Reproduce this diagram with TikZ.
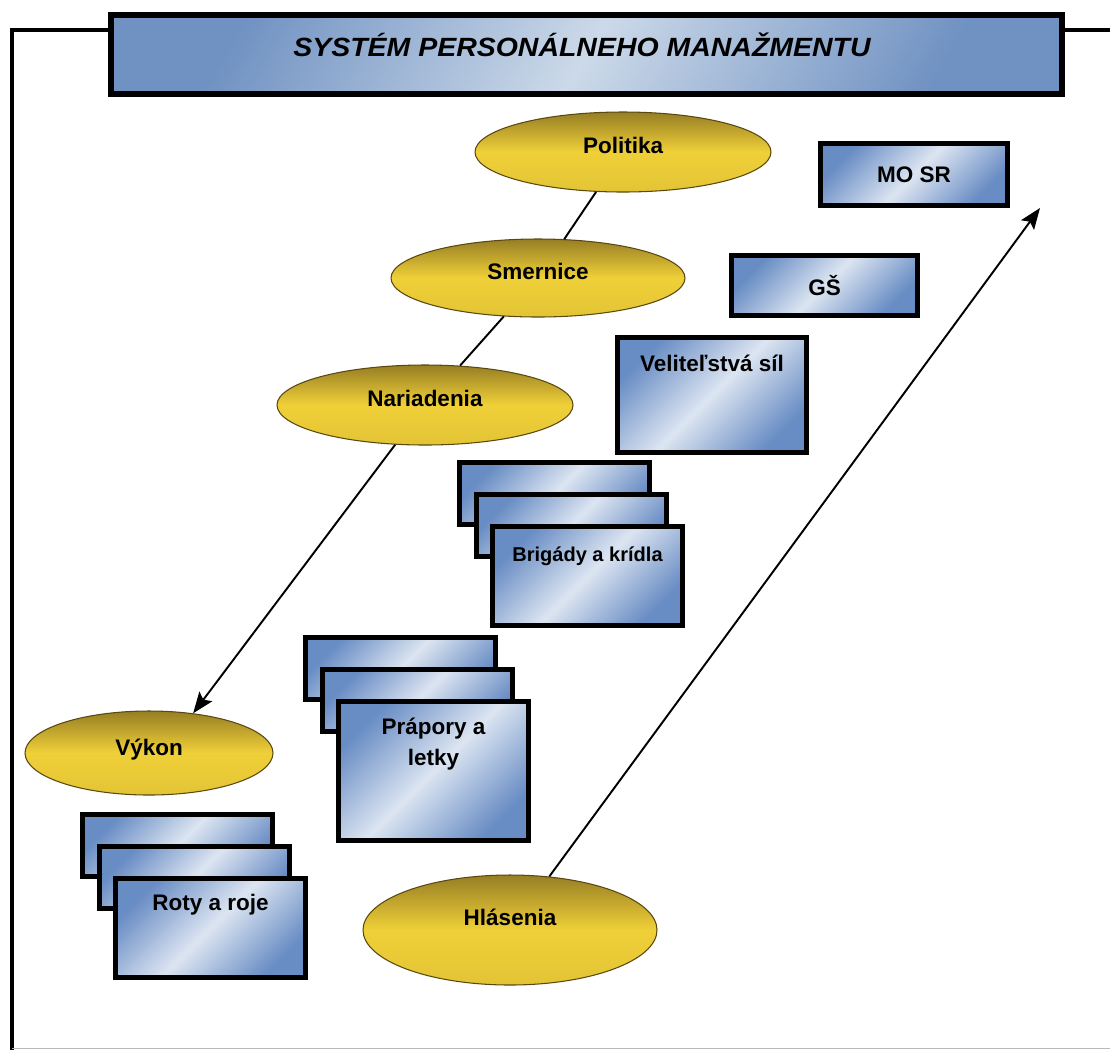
\documentclass[tikz,border=0pt]{standalone}
\usepackage{fontspec}
\setmainfont{Liberation Sans}
\newfontfamily\titlefont{Liberation Sans}[FakeStretch=1.08]
\usepackage{tikz}
\usetikzlibrary{arrows.meta,shapes.geometric}

\definecolor{gold}{RGB}{240,208,56}
\definecolor{golddark}{RGB}{150,126,36}
\definecolor{goldedge}{RGB}{90,72,15}
\definecolor{steel}{RGB}{104,140,196}
\definecolor{steellight}{RGB}{220,229,241}
\definecolor{barblue}{RGB}{112,146,194}
\definecolor{barlight}{RGB}{204,217,233}

\tikzset{
  oval/.style={ellipse,draw=goldedge,line width=0.6pt,
    top color=golddark,bottom color=gold!85!golddark,middle color=gold,
    minimum width=5.92cm,minimum height=1.6cm,text depth=0.25cm,
    font=\fontsize{12.8}{15}\selectfont\bfseries},
  card/.style={rectangle,draw=black,line width=2.85pt,
    top color=steel,bottom color=steel,middle color=steellight,shading angle=45,
    minimum width=3.8cm,minimum height=1.24cm},
  cardtext/.style={align=center,inner sep=0pt,
    font=\fontsize{12.8}{18}\selectfont\bfseries},
  bar/.style={rectangle,draw=black,line width=3.4pt,
    top color=barblue,bottom color=barblue,middle color=barlight,shading angle=60,
    minimum width=19.02cm,minimum height=1.58cm}
}

\begin{document}
\begin{tikzpicture}
\useasboundingbox (0,0) rectangle (22.2,-21);

% frame and title
\draw[line width=2.3pt] (22.2,-0.6) -- (0.24,-0.6) -- (0.24,-21);
\draw[gray!55,line width=0.5pt] (0.24,-20.96) -- (22.2,-20.96);
\node[bar] (T) at (11.73,-1.09) {};
\node[inner sep=0pt,font=\titlefont\fontsize{15}{18}\selectfont\bfseries\itshape] (Tt) at (11.64,-0.9) {SYSTÉM PERSONÁLNEHO MANAŽMENTU};

\begin{scope}[every node/.style={oval}]
    \node (P) at (12.46,-3.04) {Politika};
    \node[minimum width=5.88cm,minimum height=1.56cm] (S) at (10.76,-5.56) {Smernice};
    \node (N) at (8.5,-8.1) {Nariadenia};
    \node[minimum width=4.96cm,minimum height=1.68cm] (Vy) at (2.98,-15.06) {Výkon};
    \node[minimum width=5.88cm,minimum height=2.2cm,text depth=0.5cm] (H) at (10.2,-18.6) {Hlásenia};
\end{scope}

\begin{scope}[every node/.style={card}]
    \node[minimum width=3.74cm,font=\fontsize{12.8}{15}\selectfont\bfseries] (MO) at (18.28,-3.49) {MO SR};
    \node[minimum width=3.72cm,minimum height=1.2cm,font=\fontsize{12.8}{15}\selectfont\bfseries] (GS) at (16.49,-5.71) {GŠ};
    \node[anchor=north west,minimum width=3.78cm,minimum height=2.3cm] (VS) at (12.3,-6.7) {};
    % brigady
    \node[anchor=north west] (BA1) at (9.14,-9.2) {};
    \node[anchor=north west] (BA2) at ([shift={(0.33,-0.64)}]BA1.north west) {};
    \node[anchor=north west,minimum height=1.98cm] (BA3) at ([shift={(0.33,-0.64)}]BA2.north west) {};
    % prapory
    \node[anchor=north west] (PL1) at (6.06,-12.7) {};
    \node[anchor=north west] (PL2) at ([shift={(0.33,-0.64)}]PL1.north west) {};
    \node[anchor=north west,minimum height=2.78cm] (PL3) at ([shift={(0.33,-0.64)}]PL2.north west) {};
    % roty
    \node[anchor=north west] (RR1) at (1.6,-16.24) {};
    \node[anchor=north west] (RR2) at ([shift={(0.33,-0.64)}]RR1.north west) {};
    \node[anchor=north west,minimum height=1.98cm] (RR3) at ([shift={(0.33,-0.64)}]RR2.north west) {};
\end{scope}

\begin{scope}[every node/.style={cardtext}]
    \node (VSt) at ([yshift=-0.56cm]VS.north) {Veliteľstvá síl};
    \node[font=\fontsize{11.4}{14}\selectfont\bfseries] (BAt) at ([yshift=-0.64cm]BA3.north) {Brigády a krídla};
    \node (PLt) at ([yshift=-0.9cm]PL3.north) {Prápory a\\letky};
    \node (RRt) at ([yshift=-0.58cm]RR3.north) {Roty a roje};
\end{scope}

\coordinate (U) at (20.8,-4.16);

\begin{scope}[>={Stealth[length=4.2mm,width=3.2mm,inset=0.8mm]},
              every edge/.style={draw=black,line width=1.1pt}]
    \path (P) edge (S);
    \path (S) edge (N);
    \path [->] (N) edge (Vy.42);
    \path [->] (H) edge (U);
\end{scope}
\end{tikzpicture}
\end{document}
